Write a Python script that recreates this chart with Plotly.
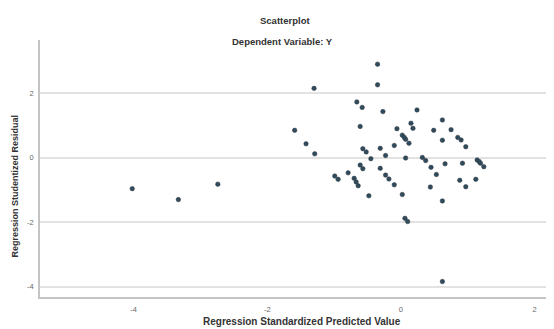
import plotly.graph_objects as go

# Data
pred_values = [
    -4.02, -3.33, -2.74, -1.59, -1.42, -1.29, -1.30, -0.35, -0.35, -0.66,
    -0.58, -0.27, 0.24, -0.61, -0.06, 0.15, 0.18, 0.62, 0.49, 0.75,
    0.85, 0.90, 0.97, 0.62, 0.02, 0.05, 0.07, 0.12, -0.10, -0.31,
    -0.23, -0.45, -0.57, -0.52, 0.07, 0.32, 0.37, 0.45, 0.53, 0.66,
    0.92, 1.14, 1.17, 1.19, 1.24, 1.12, 0.88, 0.97, 0.44, 0.62,
    -0.61, -0.57, -0.31, -0.23, -0.18, -0.10, -0.79, -0.99, -0.94, -0.70,
    -0.67, -0.64, -0.48, 0.02, 0.06, 0.10, 0.62,
]
resid_values = [
    -0.96, -1.30, -0.82, 0.85, 0.43, 0.12, 2.15, 2.90, 2.26, 1.73,
    1.56, 1.43, 1.48, 0.97, 0.90, 1.07, 0.91, 1.17, 0.85, 0.87,
    0.63, 0.55, 0.34, 0.54, 0.70, 0.63, 0.57, 0.45, 0.38, 0.29,
    0.07, -0.03, 0.28, 0.18, -0.01, 0.01, -0.09, -0.30, -0.52, -0.19,
    -0.17, -0.07, -0.12, -0.17, -0.28, -0.67, -0.70, -0.90, -0.91, -1.34,
    -0.23, -0.34, -0.33, -0.54, -0.66, -0.84, -0.47, -0.57, -0.67, -0.64,
    -0.75, -0.87, -1.18, -1.14, -1.88, -1.98, -3.84,
]
x_ticks = [-4, -2, 0, 2]
y_ticks = [2, 0, -2, -4]

chart_title = "Scatterplot"
chart_subtitle = "Dependent Variable: Y"
x_title = "Regression Standardized Predicted Value"
y_title = "Regression Studentized Residual"

FONT = "Liberation Sans, Arial, sans-serif"
TXT = "#333333"

fig = go.Figure()
fig.add_trace(go.Scatter(
    x=pred_values, y=resid_values, mode="markers",
    marker=dict(size=4.5, color="#2f4b5e", line=dict(color="#33393f", width=0.5)),
    showlegend=False,
))

def bold(s):
    return "<b>" + s + "</b>"

# page body has an 8px margin, so the figure is sized/offset to compensate
fig.update_layout(
    width=546, height=321,
    margin=dict(l=32, r=4, t=32, b=32, autoexpand=False),
    paper_bgcolor="white", plot_bgcolor="white",
    font=dict(family=FONT, size=7, color=TXT),
    xaxis=dict(
        range=[-5.4, 2.23], tickvals=x_ticks, ticktext=[str(v) for v in x_ticks],
        showgrid=False, zeroline=False, showline=True, linecolor="#c4c4c4", linewidth=1.5,
        ticks="", ticklabelstandoff=4, tickfont=dict(size=7.5, color="#666"), automargin=False,
    ),
    yaxis=dict(
        range=[-4.32, 3.65], tickvals=y_ticks, ticktext=[str(v) for v in y_ticks],
        showgrid=True, gridcolor="#e2e2e2", gridwidth=1.5,
        zeroline=False, showline=True, linecolor="#c4c4c4", linewidth=1.5,
        ticks="", ticklabelstandoff=3, tickfont=dict(size=7.5, color="#666"), automargin=False,
    ),
    annotations=[
        dict(text=bold(chart_title), xref="paper", yref="paper", x=0.48, y=1, yshift=20,
             showarrow=False, font=dict(size=9.5, color=TXT, family=FONT), yanchor="middle"),
        dict(text=bold(chart_subtitle), xref="paper", yref="paper", x=0.476, y=1, yshift=-1,
             showarrow=False, font=dict(size=9.5, color=TXT, family=FONT), yanchor="middle"),
        dict(text=bold(x_title), xref="paper", yref="paper", x=0.514, y=0, yshift=-24,
             showarrow=False, font=dict(size=10, color=TXT, family=FONT), yanchor="middle"),
        dict(text=bold(y_title), xref="paper", yref="paper", x=0, xshift=-25, y=0.43,
             textangle=-90, showarrow=False, font=dict(size=9, color=TXT, family=FONT),
             xanchor="center", yanchor="middle"),
    ],
)

fig.write_html("out.html")
